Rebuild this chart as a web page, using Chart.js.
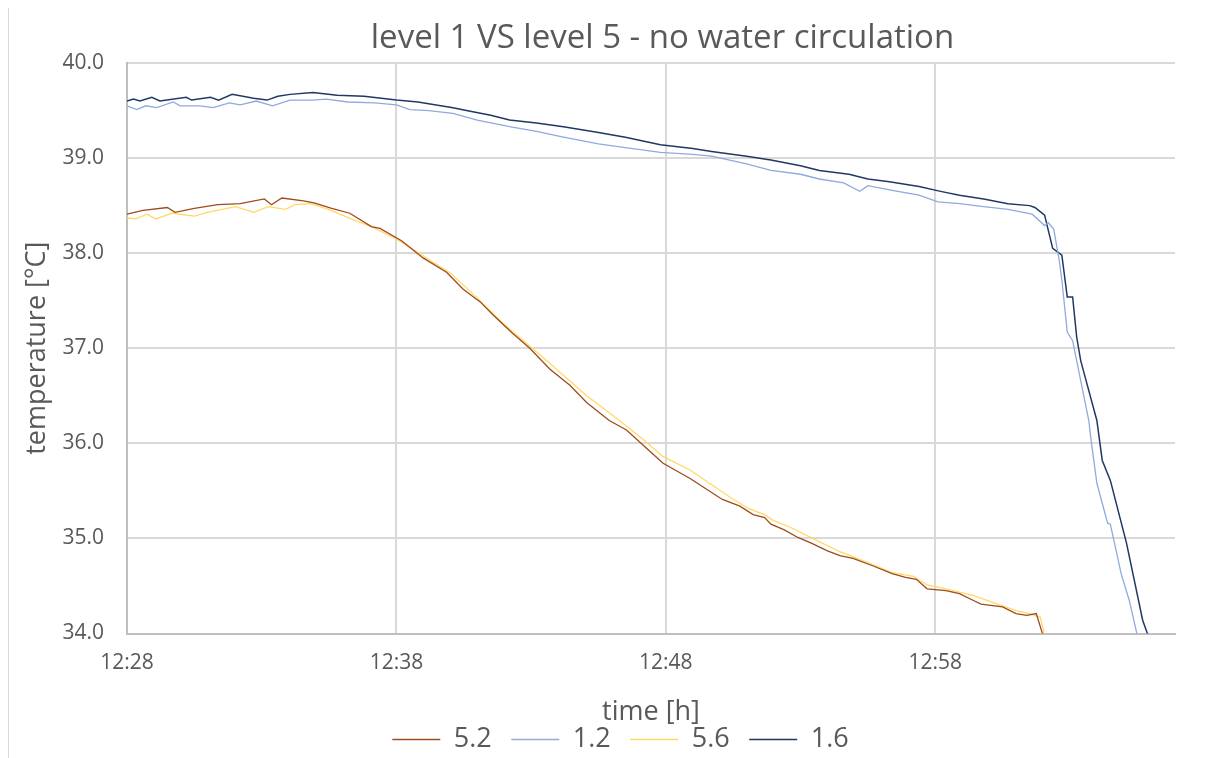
<!DOCTYPE html>
<html>
<head>
<meta charset="utf-8">
<script src="https://cdn.jsdelivr.net/npm/chart.js@4.4.1/dist/chart.umd.min.js"></script>
<style>
  html, body { margin: 0; padding: 0; background: #fff; }
  #wrap { position: relative; width: 1216px; height: 758px; }
  #edge { position: absolute; left: 8px; top: 8px; height: 750px; border-left: 1px solid #d9d9d9; }
  #chart { position: absolute; left: 0; top: 0; }
</style>
</head>
<body>
<div id="wrap">
  <canvas id="chart" width="1216" height="758"></canvas>
  <div id="edge"></div>
</div>
<script>
// minutes after 12:28
const xTicks = [0, 10, 20, 30];
const xTickLabels = ['12:28', '12:38', '12:48', '12:58'];

const t52 = [0, 0.59, 1.5, 1.78, 2.5, 3.37, 4.2, 5.1, 5.36, 5.75, 6.55, 6.94, 7.6, 8.27, 9.07, 9.39, 10.19, 10.99, 11.86, 12.48, 13.1, 13.59, 14.3, 14.95, 15.7, 16.44, 17.06, 17.9, 18.54, 19.16, 19.9, 20.9, 22.1, 22.75, 23.24, 23.67, 23.9, 24.4, 24.9, 25.4, 26.0, 26.46, 26.95, 27.7, 28.4, 28.9, 29.3, 29.7, 30.4, 30.9, 31.4, 31.7, 32.5, 33.0, 33.4, 33.75, 34.0, 34.3];
const v52 = [38.41, 38.45, 38.48, 38.43, 38.47, 38.51, 38.52, 38.57, 38.51, 38.58, 38.55, 38.53, 38.47, 38.42, 38.28, 38.26, 38.13, 37.95, 37.80, 37.62, 37.49, 37.35, 37.16, 37.00, 36.78, 36.61, 36.43, 36.24, 36.14, 35.98, 35.79, 35.63, 35.41, 35.34, 35.25, 35.22, 35.15, 35.09, 35.01, 34.95, 34.87, 34.82, 34.79, 34.71, 34.63, 34.59, 34.57, 34.47, 34.45, 34.42, 34.35, 34.31, 34.28, 34.21, 34.19, 34.21, 33.98, 33.5];

const t12 = [0, 0.36, 0.7, 1.1, 1.72, 1.97, 2.7, 3.2, 3.8, 4.2, 4.8, 5.4, 6.05, 6.9, 7.4, 8.2, 9.2, 10.0, 10.5, 11.2, 12.1, 13.0, 14.2, 15.2, 16.2, 17.5, 18.5, 19.8, 21.0, 21.7, 23.0, 23.9, 25.0, 25.7, 26.6, 27.2, 27.5, 28.4, 29.4, 30.1, 30.9, 31.8, 32.7, 33.6, 34.06, 34.2, 34.4, 34.6, 34.7, 34.9, 35.1, 35.4, 35.7, 35.8, 36.0, 36.4, 36.5, 36.9, 37.2, 37.5, 37.8];
const v12 = [39.55, 39.51, 39.55, 39.53, 39.59, 39.55, 39.55, 39.53, 39.58, 39.56, 39.60, 39.55, 39.61, 39.61, 39.62, 39.59, 39.58, 39.56, 39.51, 39.50, 39.47, 39.40, 39.33, 39.28, 39.22, 39.15, 39.11, 39.06, 39.04, 39.02, 38.94, 38.87, 38.83, 38.78, 38.74, 38.65, 38.71, 38.66, 38.61, 38.54, 38.52, 38.49, 38.46, 38.41, 38.29, 38.32, 38.25, 37.93, 37.72, 37.17, 37.08, 36.66, 36.24, 36.00, 35.58, 35.16, 35.15, 34.63, 34.35, 33.98, 33.6];

const t56 = [0, 0.33, 0.74, 1.07, 1.67, 2.51, 2.98, 4.03, 4.7, 5.24, 5.89, 6.22, 6.82, 7.48, 8.41, 9.07, 10.0, 11.0, 12.0, 13.0, 14.0, 15.0, 15.7, 17.06, 18.05, 19.16, 19.9, 20.9, 22.4, 22.75, 23.1, 23.67, 23.98, 24.6, 25.6, 26.46, 27.45, 28.4, 29.2, 29.7, 30.4, 31.4, 32.1, 33.0, 33.5, 33.9, 34.06, 34.3];
const v56 = [38.37, 38.36, 38.41, 38.36, 38.42, 38.39, 38.43, 38.49, 38.43, 38.49, 38.46, 38.51, 38.52, 38.46, 38.35, 38.28, 38.15, 37.97, 37.79, 37.53, 37.25, 37.01, 36.84, 36.50, 36.29, 36.04, 35.86, 35.72, 35.43, 35.37, 35.31, 35.25, 35.19, 35.12, 34.98, 34.86, 34.75, 34.64, 34.60, 34.51, 34.47, 34.40, 34.33, 34.24, 34.21, 34.17, 33.98, 33.5];

const t16 = [0, 0.24, 0.48, 0.92, 1.22, 2.2, 2.4, 3.1, 3.4, 3.9, 4.7, 5.2, 5.6, 6.05, 6.9, 7.8, 8.8, 10.0, 10.8, 12.1, 12.6, 13.5, 14.2, 15.2, 16.2, 17.5, 18.5, 19.8, 21.0, 21.7, 23.0, 23.9, 25.0, 25.7, 26.8, 27.5, 28.3, 29.4, 30.2, 30.9, 31.8, 32.7, 33.5, 33.7, 34.06, 34.36, 34.7, 34.9, 35.1, 35.25, 35.4, 35.6, 36.0, 36.2, 36.5, 37.1, 37.7, 37.9, 38.2];
const v16 = [39.60, 39.62, 39.60, 39.64, 39.60, 39.64, 39.61, 39.64, 39.61, 39.67, 39.63, 39.61, 39.65, 39.67, 39.69, 39.66, 39.65, 39.61, 39.59, 39.53, 39.50, 39.45, 39.40, 39.37, 39.33, 39.27, 39.22, 39.14, 39.10, 39.07, 39.02, 38.98, 38.92, 38.87, 38.83, 38.78, 38.75, 38.70, 38.65, 38.61, 38.57, 38.52, 38.50, 38.48, 38.40, 38.05, 37.98, 37.54, 37.54, 37.12, 36.87, 36.66, 36.24, 35.82, 35.61, 34.95, 34.14, 33.98, 33.6];

const seriesNames = ['5.2', '1.2', '5.6', '1.6'];
const seriesColors = ['#9E4B1E', '#8FAADC', '#FFD966', '#203864'];
const seriesT = [t52, t12, t56, t16];
const seriesV = [v52, v12, v56, v16];

const textColor = '#595959';
const fontFamily = '"Open Sans", "Noto Sans", sans-serif';

const datasets = seriesNames.map((name, i) => ({
    label: name,
    data: seriesT[i].map((t, j) => ({ x: t, y: seriesV[i][j] })),
    borderColor: seriesColors[i],
    backgroundColor: seriesColors[i],
    borderWidth: i === 3 ? 1.5 : 1.3,
    pointRadius: 0,
    tension: 0,
    fill: false
}));

// nudge title and legend sideways to sit where the original has them
const shiftBoxes = {
    id: 'shiftBoxes',
    afterLayout(chart) {
        const t = chart.titleBlock;
        if (t) { t.left += 75; t.right += 75; }
        const l = chart.legend;
        if (l) { l.left += 33; l.right += 33; l.top += 5; l.bottom += 5; }
    }
};

new Chart(document.getElementById('chart'), {
    type: 'line',
    data: { datasets: datasets },
    plugins: [shiftBoxes],
    options: {
        responsive: false,
        animation: false,
        devicePixelRatio: 1,
        layout: { padding: { left: 0, right: 41, top: 0, bottom: 0 } },
        plugins: {
            title: {
                display: true,
                text: 'level 1 VS level 5 - no water circulation',
                color: textColor,
                font: { family: fontFamily, size: 33, weight: 'normal' },
                padding: { top: 19, bottom: 4.4 }
            },
            legend: {
                position: 'bottom',
                labels: {
                    color: textColor,
                    font: { family: fontFamily, size: 27 },
                    usePointStyle: true,
                    pointStyle: 'line',
                    pointStyleWidth: 48,
                    padding: 19.5
                }
            },
            tooltip: { enabled: false }
        },
        scales: {
            x: {
                type: 'linear',
                min: 0,
                max: 38.9,
                afterBuildTicks: scale => { scale.ticks = xTicks.map(v => ({ value: v })); },
                afterFit: scale => { scale.height = 68; },
                ticks: {
                    color: textColor,
                    font: { family: fontFamily, size: 21 },
                    padding: 17,
                    maxRotation: 0,
                    callback: (value) => xTickLabels[xTicks.indexOf(value)]
                },
                grid: { color: '#d9d9d9', lineWidth: 2, drawTicks: false, tickLength: 0 },
                border: { display: true, color: '#bfbfbf', width: 2 },
                title: {
                    display: true,
                    text: 'time [h]',
                    color: textColor,
                    font: { family: fontFamily, size: 27 },
                    padding: { top: 0, bottom: -27 }
                }
            },
            y: {
                min: 34,
                max: 40,
                afterFit: scale => { scale.width = 127; },
                ticks: {
                    stepSize: 1,
                    color: textColor,
                    font: { family: fontFamily, size: 21 },
                    padding: 23,
                    callback: (value) => value.toFixed(1)
                },
                grid: { color: '#d9d9d9', lineWidth: 2, drawTicks: false, tickLength: 0 },
                border: { display: true, color: '#bfbfbf', width: 2 },
                title: {
                    display: true,
                    text: 'temperature [°C]',
                    color: textColor,
                    font: { family: fontFamily, size: 27 },
                    padding: { top: 21, bottom: 0 }
                }
            }
        }
    }
});
</script>
</body>
</html>
